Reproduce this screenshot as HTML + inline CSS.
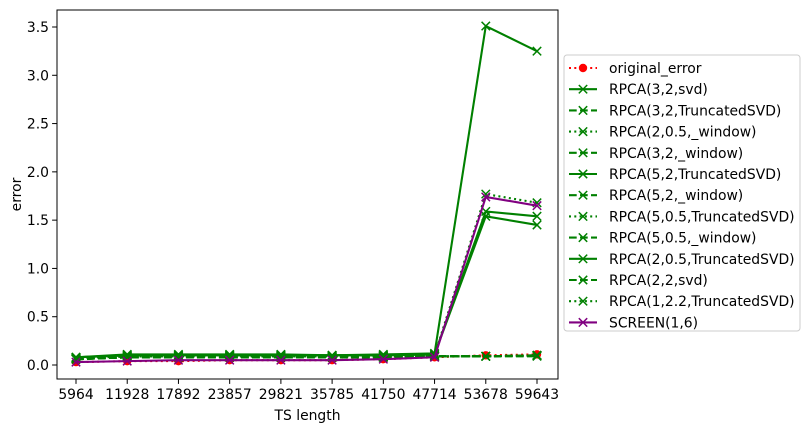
<!DOCTYPE html>
<html><head><meta charset="utf-8"><style>
body{margin:0;background:#fff;font-family:"DejaVu Sans","Liberation Sans",sans-serif}
svg text{font-family:"DejaVu Sans","Liberation Sans",sans-serif;font-size:13.9px;fill:#000}
</style></head><body>
<svg id="chart" width="809" height="432" xmlns="http://www.w3.org/2000/svg">
<g id="plot"></g>
</svg>
<script>
const categories=["5964","11928","17892","23857","29821","35785","41750","47714","53678","59643"];
const yTicks=[0,0.5,1,1.5,2,2.5,3,3.5];
const seriesNames=["original_error","RPCA(3,2,svd)","RPCA(3,2,TruncatedSVD)","RPCA(2,0.5,_window)","RPCA(3,2,_window)","RPCA(5,2,TruncatedSVD)","RPCA(5,2,_window)","RPCA(5,0.5,TruncatedSVD)","RPCA(5,0.5,_window)","RPCA(2,0.5,TruncatedSVD)","RPCA(2,2,svd)","RPCA(1,2.2,TruncatedSVD)","SCREEN(1,6)"];
const sOriginal=[0.03,0.04,0.04,0.05,0.05,0.05,0.06,0.08,0.10,0.11];
const sSvd=[0.08,0.11,0.11,0.11,0.11,0.10,0.11,0.12,3.51,3.25];
const sTsvd32=[0.06,0.08,0.08,0.08,0.08,0.08,0.09,0.09,0.09,0.10];
const sWin205=[0.07,0.09,0.09,0.09,0.09,0.09,0.09,0.09,0.09,0.10];
const sWin32=[0.06,0.08,0.08,0.08,0.08,0.08,0.08,0.09,0.09,0.10];
const sTsvd52=[0.08,0.10,0.10,0.10,0.10,0.10,0.10,0.11,1.59,1.54];
const sWin52=[0.06,0.08,0.08,0.08,0.08,0.08,0.08,0.09,0.09,0.10];
const sTsvd505=[0.07,0.09,0.09,0.09,0.09,0.09,0.09,0.09,0.09,0.10];
const sWin505=[0.06,0.08,0.08,0.08,0.08,0.08,0.08,0.09,0.09,0.09];
const sTsvd205=[0.08,0.10,0.10,0.10,0.10,0.10,0.10,0.11,1.54,1.45];
const sSvd22=[0.06,0.08,0.08,0.08,0.08,0.08,0.09,0.09,0.09,0.10];
const sTsvd122=[0.07,0.09,0.09,0.09,0.09,0.09,0.09,0.10,1.77,1.68];
const sScreen=[0.03,0.04,0.05,0.05,0.05,0.05,0.06,0.08,1.74,1.65];
const allSeries=[sOriginal,sSvd,sTsvd32,sWin205,sWin32,sTsvd52,sWin52,sTsvd505,sWin505,sTsvd205,sSvd22,sTsvd122,sScreen];
const styles=[["red","2 3.3","o"],["green","","x"],["green","7.7 3.3","x"],["green","2 3.3","x"],["green","7.7 3.3","x"],["green","","x"],["green","7.7 3.3","x"],["green","2 3.3","x"],["green","7.7 3.3","x"],["green","","x"],["green","7.7 3.3","x"],["green","2 3.3","x"],["purple","","x"]];
const L=57,R=558,T=10,B=379;
const xs=i=>76+i*(537-76)/(categories.length-1);
const ys=v=>365-v*(365-27)/3.5;
const NS="http://www.w3.org/2000/svg";
const g=document.getElementById('plot');
function mk(t,a,p){const e=document.createElementNS(NS,t);for(const k in a)e.setAttribute(k,a[k]);(p||g).appendChild(e);return e;}
function marker(x,y,c,m,p){if(m==="o"){return mk('circle',{cx:x,cy:y,r:4.2,fill:c},p);}
 return mk('path',{d:`M${x-4.2},${y-4.2}L${x+4.2},${y+4.2}M${x-4.2},${y+4.2}L${x+4.2},${y-4.2}`,stroke:c,'stroke-width':1.5,fill:'none'},p);}
const fr=mk('rect',{x:L,y:T,width:R-L,height:B-T,fill:'none',stroke:'#000','stroke-width':1});

yTicks.forEach(v=>{const y=ys(v);mk('line',{x1:L-4.9,x2:L,y1:y,y2:y,stroke:'#000'});
 const t=mk('text',{x:L-8,y:y+5,'text-anchor':'end'});t.textContent=v.toFixed(1);
 });
categories.forEach((c,i)=>{const x=xs(i);mk('line',{x1:x,x2:x,y1:B,y2:B+4.9,stroke:'#000'});
 const t=mk('text',{x:x,y:B+20,'text-anchor':'middle'});t.textContent=c;
 });
const xt=mk('text',{x:(L+R)/2,y:420,'text-anchor':'middle'});xt.textContent='TS length';

const yt=mk('text',{x:21,y:(T+B)/2,'text-anchor':'middle',transform:`rotate(-90 21 ${(T+B)/2})`});yt.textContent='error';

allSeries.forEach((s,k)=>{const [c,d,m]=styles[k];
 const sg=mk('g',{});
 mk('polyline',{points:s.map((v,i)=>xs(i)+','+ys(v)).join(' '),fill:'none',stroke:c,'stroke-width':2.1,'stroke-dasharray':d},sg);
 s.forEach((v,i)=>{const e=marker(xs(i),ys(v),c,m,sg);});});
const lg=mk('g',{});
mk('rect',{x:564,y:55,width:236,height:276,rx:3,fill:'#fff',stroke:'#ccc'},lg);
seriesNames.forEach((n,k)=>{const [c,d,m]=styles[k];const y=68+k*21.2;
 const eg=mk('g',{},lg);
 mk('line',{x1:569,x2:597,y1:y,y2:y,stroke:c,'stroke-width':2.1,'stroke-dasharray':d},eg);
 marker(583,y,c,m,eg);
 const t=mk('text',{x:609,y:y+5},eg);t.textContent=n;});
</script>
</body></html>
